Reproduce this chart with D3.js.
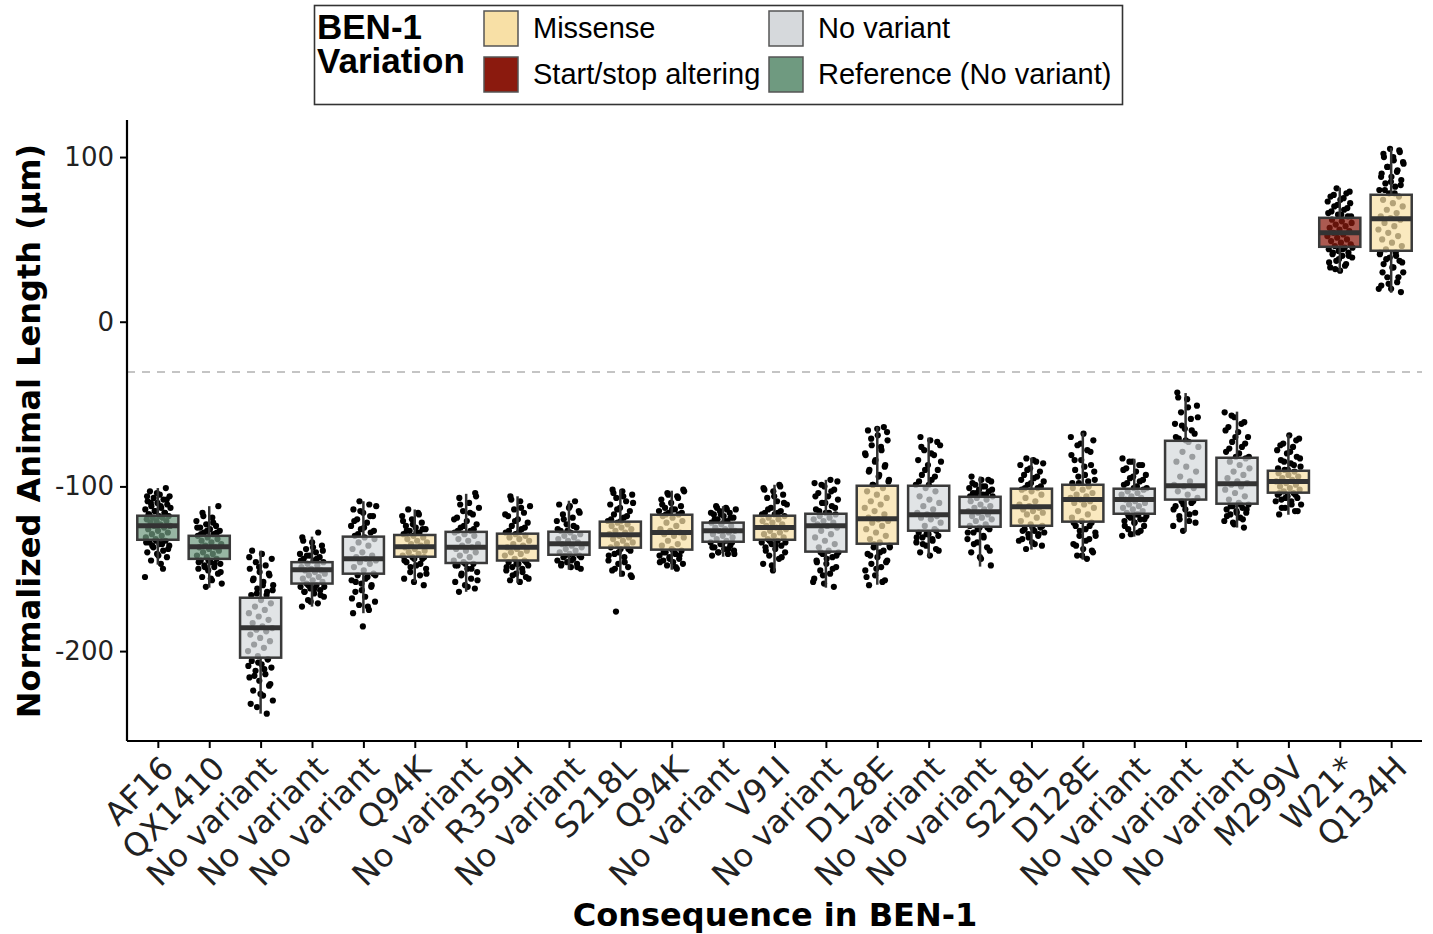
<!DOCTYPE html>
<html>
<head>
<meta charset="utf-8">
<script src="https://cdn.jsdelivr.net/npm/d3@7"></script>
<style>
  body { margin: 0; background: #fff; }
  text { font-family: "DejaVu Sans", sans-serif; }
</style>
</head>
<body>
<script>
// values
var categories = ["AF16", "QX1410", "No variant", "No variant", "No variant", "Q94K", "No variant",
   "R359H", "No variant", "S218L", "Q94K", "No variant", "V91I", "No variant", "D128E", "No variant",
   "No variant", "S218L", "D128E", "No variant", "No variant", "No variant", "M299V", "W21*", "Q134H"];

var variation = ["Reference (No variant)", "Reference (No variant)", "No variant", "No variant", "No variant",
   "Missense", "No variant", "Missense", "No variant", "Missense", "Missense", "No variant", "Missense",
   "No variant", "Missense", "No variant", "No variant", "Missense", "Missense", "No variant", "No variant",
   "No variant", "Missense", "Start/stop altering", "Missense"];

var q1 =          [-132.4, -144, -204, -159, -153, -142.7, -146.5, -145, -141.5, -137.2, -138.4, -133.6, -132.4,
   -139.6, -134.8, -126.9, -124.5, -123.9, -121.4, -116.6, -108, -110.5, -103.8, 45.5, 43.1];
var medians =     [-123.9, -136.6, -185.8, -150.6, -144, -136.6, -137, -137, -134.8, -129.3, -128, -126.9, -125,
   -123.9, -119.6, -117.2, -115.4, -112.3, -108, -108, -99.6, -98.4, -97, 54, 62.5];
var q3 =          [-117.8, -130, -167.6, -146, -130.5, -129.5, -127.6, -128.7, -127.5, -121.4, -117.2, -122, -117.8,
   -116.6, -99.6, -99.6, -106.3, -101.4, -99, -101.4, -72.3, -82.6, -90.5, 63.1, 77.1];
var whiskerLow =  [-147.5, -161.5, -238, -173, -177, -158, -164, -158.5, -150.6, -154.8, -150.6, -142.7, -151.8,
   -161.5, -159.7, -142.7, -148.7, -138.4, -144.5, -130.5, -127.5, -125, -117.2, 30.4, 17.6];
var whiskerHigh = [-101, -112, -139, -130.5, -109, -114, -104.5, -106, -108.7, -102, -102.6, -112, -99,
   -96, -63.8, -70.4, -94, -82.6, -67.4, -83.2, -43.3, -54.6, -68.6, 81.4, 105.6];

// individual animals (one list per strain)
var pointValues = [
   [-155, -147, -145, -143, -141, -140, -139, -137, -136, -135, -134, -133, -132, -131, -130, -129, -128, -127,
    -126, -125, -124, -124, -123, -122, -121, -121, -120, -119, -119, -118, -118, -117, -116, -115, -114, -113,
    -112, -111, -110, -109, -108, -107, -106, -105, -103, -101,
    -133, -134, -135, -136, -138, -142, -117, -116, -115, -113, -112, -110, -108, -104, -106, -150],
   [-161, -159, -157, -155, -153, -151, -150, -149, -148, -147, -146, -145, -144, -143, -142, -141, -140, -139,
    -138, -137, -137, -136, -135, -134, -133, -132, -131, -130, -129, -128, -127, -126, -125, -124, -123, -121,
    -119, -116, -112,
    -145, -146, -147, -149, -152, -156, -129, -128, -127, -125, -122, -118],
   [-238, -234, -230, -227, -224, -221, -218, -216, -214, -212, -210, -208, -206, -205, -203, -200, -198, -196,
    -194, -192, -190, -188, -187, -186, -185, -183, -181, -179, -177, -175, -173, -171, -169, -166, -164, -162,
    -160, -158, -156, -154, -152, -150, -148, -146, -144, -141, -139,
    -205, -207, -209, -211, -215, -220, -226, -232, -166, -165, -163, -160, -157, -153, -149, -143],
   [-173, -171, -169, -167, -165, -164, -163, -162, -161, -160, -159, -158, -157, -156, -155, -154, -153, -152,
    -151, -151, -150, -149, -148, -147, -146, -145, -144, -143, -142, -141, -140, -138, -136, -134, -131, -128,
    -160, -161, -162, -164, -166, -170, -145, -144, -142, -139, -137, -133],
   [-185, -177, -175, -172, -170, -167, -164, -161, -159, -157, -155, -154, -153, -151, -149, -147, -146, -145,
    -144, -143, -142, -140, -138, -136, -134, -132, -131, -130, -128, -126, -124, -122, -120, -118, -116, -114,
    -111, -109,
    -154, -156, -158, -160, -163, -168, -173, -129, -127, -125, -121, -118, -115, -112],
   [-160, -158, -156, -154, -152, -150, -148, -146, -144, -143, -142, -141, -140, -139, -138, -137, -136, -135,
    -134, -133, -132, -131, -130, -129, -128, -127, -126, -125, -124, -122, -120, -118, -116, -114,
    -143, -144, -145, -147, -149, -153, -128, -127, -126, -123, -121, -117],
   [-164, -162, -160, -158, -156, -154, -152, -150, -148, -147, -146, -145, -143, -142, -140, -139, -138, -137,
    -136, -135, -133, -132, -130, -129, -128, -127, -125, -123, -121, -119, -117, -115, -113, -110, -107, -104,
    -147, -148, -150, -153, -157, -161, -127, -126, -124, -120, -116, -111, -106],
   [-158, -157, -155, -153, -151, -150, -149, -148, -147, -146, -145, -144, -142, -141, -140, -139, -138, -137,
    -136, -135, -133, -132, -131, -130, -129, -128, -126, -124, -122, -120, -118, -116, -114, -112, -109, -106,
    -146, -147, -149, -152, -154, -156, -128, -127, -125, -121, -117, -113, -108],
   [-150, -149, -148, -147, -146, -145, -144, -143, -142, -141, -140, -139, -138, -137, -136, -135, -134, -133,
    -132, -131, -130, -129, -128, -127, -125, -123, -121, -119, -117, -115, -113, -111, -109,
    -142, -143, -145, -147, -149, -127, -126, -124, -120, -116, -112],
   [-176, -155, -153, -151, -149, -147, -145, -143, -141, -139, -138, -137, -136, -135, -134, -133, -132, -131,
    -130, -129, -128, -127, -126, -125, -124, -123, -122, -121, -119, -117, -115, -113, -111, -109, -107, -105,
    -103, -102,
    -138, -140, -142, -146, -150, -154, -121, -120, -118, -114, -110, -106, -104],
   [-150, -148, -147, -146, -145, -144, -143, -142, -141, -140, -139, -138, -136, -135, -133, -131, -130, -129,
    -128, -127, -126, -124, -122, -121, -119, -118, -117, -116, -115, -114, -113, -112, -110, -108, -106, -104, -102,
    -139, -140, -142, -144, -146, -149, -117, -116, -114, -111, -107, -105, -103],
   [-142, -141, -140, -139, -138, -137, -136, -135, -134, -133, -132, -131, -130, -129, -128, -127, -127, -126,
    -125, -124, -123, -122, -121, -120, -119, -118, -117, -116, -115, -114, -113, -112,
    -134, -135, -137, -138, -140, -141, -121, -120, -119, -117, -116, -114, -113],
   [-151, -147, -144, -142, -140, -138, -137, -136, -135, -134, -133, -132, -131, -130, -129, -128, -127, -126,
    -125, -124, -123, -122, -121, -120, -119, -118, -117, -116, -115, -113, -111, -109, -107, -105, -103, -101, -99,
    -133, -134, -136, -139, -143, -148, -117, -116, -114, -110, -106, -102, -100],
   [-161, -159, -156, -153, -151, -149, -147, -145, -143, -141, -140, -139, -137, -135, -133, -131, -129, -127,
    -125, -124, -123, -122, -121, -120, -119, -118, -117, -116, -114, -112, -110, -108, -106, -104, -102, -100,
    -98, -96,
    -140, -142, -144, -146, -150, -154, -158, -116, -115, -113, -110, -106, -103, -99, -97],
   [-160, -157, -154, -151, -149, -147, -145, -143, -141, -139, -137, -136, -134, -132, -130, -128, -126, -124,
    -122, -121, -120, -119, -117, -115, -113, -111, -109, -107, -105, -103, -101, -99, -96, -93, -90, -87, -84,
    -81, -78, -75, -72, -69, -66, -64,
    -135, -137, -140, -142, -146, -150, -155, -158, -99, -97, -94, -91, -88, -85, -80, -76, -71, -67, -65],
   [-142, -140, -138, -136, -134, -132, -131, -130, -129, -128, -126, -124, -122, -120, -119, -118, -117, -116,
    -114, -112, -110, -108, -106, -103, -101, -99, -96, -93, -90, -87, -84, -81, -78, -75, -72, -70,
    -127, -129, -131, -133, -135, -139, -99, -97, -94, -90, -85, -80, -76, -73],
   [-148, -144, -140, -137, -134, -132, -130, -128, -126, -125, -124, -123, -121, -120, -119, -118, -117, -116,
    -115, -114, -113, -112, -111, -109, -108, -107, -106, -105, -104, -103, -102, -101, -100, -99, -97, -96, -94,
    -125, -126, -128, -131, -135, -139, -143, -106, -105, -104, -102, -100, -98, -96],
   [-138, -136, -134, -132, -130, -129, -128, -127, -126, -125, -123, -121, -119, -117, -116, -115, -114, -113,
    -112, -111, -109, -107, -105, -103, -102, -101, -99, -97, -95, -93, -91, -89, -87, -85, -83,
    -124, -125, -127, -129, -131, -133, -135, -101, -100, -98, -96, -94, -90, -86, -84],
   [-144, -142, -140, -138, -135, -132, -130, -128, -126, -124, -122, -121, -119, -117, -115, -113, -111, -110,
    -109, -108, -107, -106, -105, -104, -102, -101, -100, -98, -96, -93, -90, -87, -84, -81, -78, -75, -72, -68,
    -122, -124, -127, -130, -133, -136, -139, -142, -98, -97, -94, -91, -88, -84, -79, -74, -70],
   [-130, -128, -126, -124, -122, -121, -120, -119, -118, -117, -116, -115, -114, -113, -112, -111, -110, -109,
    -108, -107, -106, -105, -104, -103, -102, -101, -99, -97, -95, -93, -91, -89, -87, -85, -83,
    -117, -118, -120, -122, -124, -127, -129, -101, -100, -98, -96, -94, -90, -87, -85],
   [-127, -124, -121, -118, -116, -114, -112, -110, -109, -107, -105, -103, -101, -100, -99, -97, -94, -91,
    -88, -85, -82, -79, -76, -73, -71, -68, -65, -62, -59, -55, -51, -47, -43,
    -109, -111, -114, -117, -120, -122, -72, -70, -66, -63, -58, -52, -46],
   [-125, -123, -121, -119, -117, -116, -115, -114, -113, -112, -111, -110, -108, -106, -104, -102, -100, -99,
    -98, -97, -95, -93, -91, -89, -87, -85, -83, -82, -79, -76, -73, -70, -67, -64, -61, -58, -55,
    -111, -112, -114, -116, -118, -120, -122, -82, -80, -77, -74, -70, -66, -62, -57],
   [-117, -115, -113, -111, -109, -108, -107, -106, -105, -104, -103, -102, -101, -100, -99, -98, -97, -96,
    -95, -94, -93, -92, -91, -90, -88, -86, -84, -82, -80, -78, -76, -74, -71, -69,
    -104, -105, -107, -109, -111, -113, -115, -90, -89, -87, -85, -83, -79, -75, -72],
   [31, 33, 35, 37, 39, 40, 41, 42, 43, 44, 45, 46, 47, 48, 49, 50, 51, 52, 53, 54, 55, 56, 57, 58, 59, 60,
    61, 62, 64, 65, 66, 68, 70, 72, 74, 76, 78, 81,
    45, 44, 42, 40, 38, 36, 34, 32, 64, 65, 67, 69, 71, 73, 75, 77, 79],
   [18, 20, 22, 24, 27, 30, 33, 35, 37, 39, 41, 42, 44, 46, 48, 50, 52, 54, 56, 58, 60, 62, 63, 64, 66, 68,
    70, 72, 74, 76, 78, 80, 82, 84, 86, 88, 90, 92, 94, 96, 98, 100, 103, 105,
    42, 40, 38, 36, 33, 30, 27, 23, 20, 78, 80, 83, 85, 88, 91, 94, 97, 100, 102, 104]
];

var legendLabels = ["Missense", "Start/stop altering", "No variant", "Reference (No variant)"];
var yTicks = [100, 0, -100, -200];
var thresholdValue = -30.6;

var colors = {
   "Missense": "#f8e0a6",
   "Start/stop altering": "#8b1a0e",
   "No variant": "#d6d9dc",
   "Reference (No variant)": "#6f9a80"
};

var width = 1433;
var height = 934;
var plotLeft = 127, plotRight = 1422, plotTop = 120, plotBottom = 741;

var svg = d3.select("body")
            .append("svg")
               .attr("width", width)
               .attr("height", height);

var x = d3.scalePoint()
         .domain(d3.range(categories.length))
         .range([plotLeft, plotRight])
         .padding(0.6);

var y = d3.scaleLinear()
         .domain([-254.6, 122.5])
         .range([plotBottom, plotTop]);

var step = x.step();
var boxW = step * 0.8;
var jitter = step * 0.25;

// threshold line
svg.append("line")
   .attr("x1", plotLeft).attr("x2", plotRight)
   .attr("y1", y(thresholdValue)).attr("y2", y(thresholdValue))
   .attr("stroke", "#c4c4c4")
   .attr("stroke-width", 2)
   .attr("stroke-dasharray", "8,7");

// jittered points (horizontal spread only, no meaning)
var pts = [];
pointValues.forEach(function(vals, ci) {
   vals.forEach(function(v, i) {
      var off = ((i * 0.6180339 + ci * 0.37) % 1 - 0.5) * 2 * jitter;
      pts.push({c: ci, v: v, off: off});
   });
});

svg.append("g")
   .selectAll("circle")
   .data(pts)
   .enter().append("circle")
      .attr("cx", function(d) { return x(d.c) + d.off; })
      .attr("cy", function(d) { return y(d.v); })
      .attr("r", 3.1)
      .attr("fill", "#000");

// boxplots
var boxes = svg.append("g")
   .selectAll("g")
   .data(categories.map(function(c, i) { return i; }))
   .enter().append("g");

boxes.append("line")
   .attr("x1", function(i) { return x(i); })
   .attr("x2", function(i) { return x(i); })
   .attr("y1", function(i) { return y(whiskerHigh[i]); })
   .attr("y2", function(i) { return y(q3[i]); })
   .attr("stroke", "#333")
   .attr("stroke-width", 2.5);

boxes.append("line")
   .attr("x1", function(i) { return x(i); })
   .attr("x2", function(i) { return x(i); })
   .attr("y1", function(i) { return y(q1[i]); })
   .attr("y2", function(i) { return y(whiskerLow[i]); })
   .attr("stroke", "#333")
   .attr("stroke-width", 2.5);

boxes.append("rect")
   .attr("x", function(i) { return x(i) - boxW / 2; })
   .attr("width", boxW)
   .attr("y", function(i) { return y(q3[i]); })
   .attr("height", function(i) { return y(q1[i]) - y(q3[i]); })
   .attr("fill", function(i) { return colors[variation[i]]; })
   .attr("fill-opacity", 0.72)
   .attr("stroke", "#3a3a3a")
   .attr("stroke-width", 2.5);

boxes.append("line")
   .attr("x1", function(i) { return x(i) - boxW / 2; })
   .attr("x2", function(i) { return x(i) + boxW / 2; })
   .attr("y1", function(i) { return y(medians[i]); })
   .attr("y2", function(i) { return y(medians[i]); })
   .attr("stroke", "#333")
   .attr("stroke-width", 5);

// axes
var yAxis = d3.axisLeft(y)
      .tickValues(yTicks)
      .tickFormat(function(d) { return String(d); })
      .tickSize(7)
      .tickPadding(6);
var gy = svg.append("g")
   .attr("transform", "translate(" + plotLeft + ",0)")
   .call(yAxis);
gy.select(".domain").attr("d", "M0," + plotTop + "V" + plotBottom).attr("stroke-width", 2.2);
gy.selectAll(".tick line").attr("stroke-width", 2);
gy.selectAll(".tick text")
   .attr("font-size", 26)
   .attr("fill", "#222")
   .style("font-family", "DejaVu Sans");

var xAxis = d3.axisBottom(x).tickSize(7).tickFormat(function(i) { return categories[i]; });
var gx = svg.append("g")
   .attr("transform", "translate(0," + plotBottom + ")")
   .call(xAxis);
gx.select(".domain").attr("d", "M" + plotLeft + ",0H" + plotRight).attr("stroke-width", 2.2);
gx.selectAll(".tick line").attr("stroke-width", 2);
gx.selectAll(".tick text")
   .attr("font-size", 32)
   .attr("fill", "#222")
   .style("font-family", "DejaVu Sans")
   .attr("text-anchor", "end")
   .attr("y", 0)
   .attr("dy", 0)
   .attr("transform", "translate(17,29) rotate(-45)");

// axis titles
svg.append("text")
   .attr("x", 775)
   .attr("y", 926)
   .attr("text-anchor", "middle")
   .attr("font-size", 32)
   .attr("font-weight", "bold")
   .text("Consequence in BEN-1");

svg.append("text")
   .attr("transform", "translate(40,431) rotate(-90)")
   .attr("text-anchor", "middle")
   .attr("font-size", 32)
   .attr("font-weight", "bold")
   .text("Normalized Animal Length (µm)");

// legend
var legend = svg.append("g");
legend.append("rect")
   .attr("x", 314.5).attr("y", 5.5)
   .attr("width", 808).attr("height", 99)
   .attr("fill", "#fff")
   .attr("stroke", "#333")
   .attr("stroke-width", 1.6);

legend.append("text")
   .attr("x", 317).attr("y", 39)
   .attr("font-size", 35)
   .attr("font-weight", "bold")
   .style("font-family", "Liberation Sans")
   .text("BEN-1");
legend.append("text")
   .attr("x", 317).attr("y", 73)
   .attr("font-size", 35)
   .attr("font-weight", "bold")
   .style("font-family", "Liberation Sans")
   .text("Variation");

var keyPos = [[484, 11], [484, 57], [769, 11], [769, 57]];
var items = legend.selectAll(".item")
   .data(legendLabels)
   .enter().append("g")
      .attr("class", "item")
      .attr("transform", function(d, i) { return "translate(" + keyPos[i][0] + "," + keyPos[i][1] + ")"; });

items.append("rect")
   .attr("width", 34).attr("height", 35)
   .attr("fill", function(d) { return colors[d]; })
   .attr("stroke", "#555")
   .attr("stroke-width", 1.5);

items.append("text")
   .attr("x", 49).attr("y", 27)
   .attr("font-size", 29)
   .style("font-family", "Liberation Sans")
   .text(function(d) { return d; });
</script>
</body>
</html>
